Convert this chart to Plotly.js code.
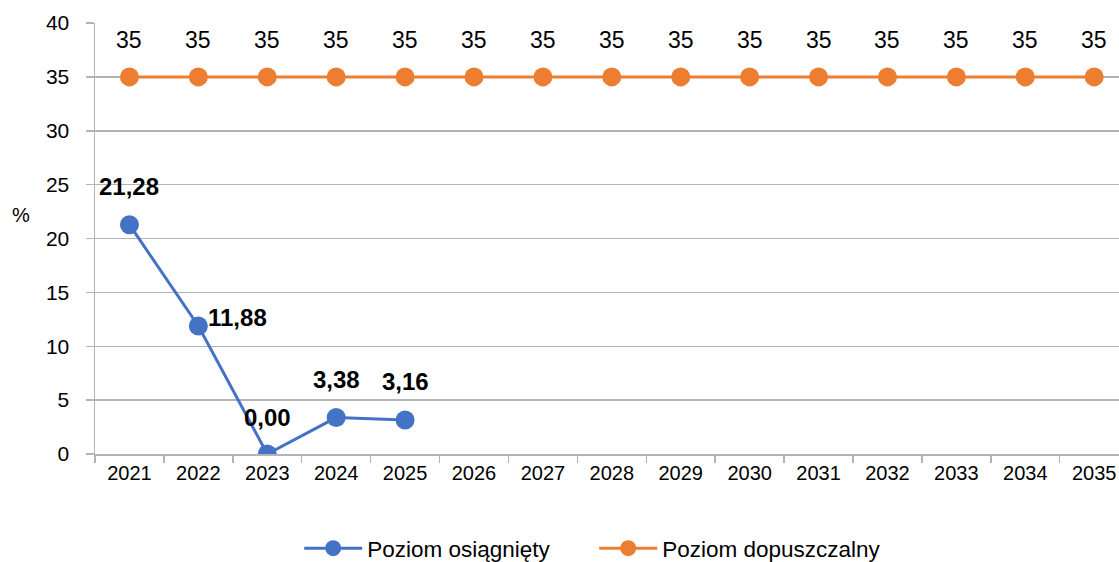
<!DOCTYPE html>
<html>
<head>
<meta charset="utf-8">
<script src="https://cdn.plot.ly/plotly-3.0.1.min.js"></script>
<style>html,body{margin:0;padding:0;overflow:hidden;background:#fff}</style>
</head>
<body>
<div id="chart" style="width:1119px;height:562px"></div>
<script>
var years = ['2021','2022','2023','2024','2025','2026','2027','2028','2029','2030','2031','2032','2033','2034','2035'];
var achievedYears = ['2021','2022','2023','2024','2025'];
var achieved = [21.28, 11.88, 0.00, 3.38, 3.16];
var achievedLabels = ['21,28','11,88','0,00','3,38','3,16'];
var allowed = [35,35,35,35,35,35,35,35,35,35,35,35,35,35,35];
var seriesNames = ['Poziom osiągnięty', 'Poziom dopuszczalny'];
var yTicks = [0,5,10,15,20,25,30,35,40];

var FONT = 'Liberation Sans, Arial, sans-serif';
var BLUE = '#4472C4', ORANGE = '#ED7D31', GRID = '#b4b4b4';

var traces = [
  {x: achievedYears, y: achieved, name: seriesNames[0], type: 'scatter', mode: 'lines+markers',
   line: {color: BLUE, width: 3}, marker: {color: BLUE, size: 19}, hoverinfo: 'x+y'},
  {x: years, y: allowed, name: seriesNames[1], type: 'scatter', mode: 'lines+markers',
   line: {color: ORANGE, width: 3}, marker: {color: ORANGE, size: 19}, hoverinfo: 'x+y'}
];

var annotations = [];
achievedYears.forEach(function(yr, i){
  var idx = years.indexOf(yr);
  var a = {x: idx, y: achieved[i], text: '<b>' + achievedLabels[i] + '</b>', showarrow: false,
    font: {family: FONT, size: 24, color: '#000'}, yshift: 38};
  if (i === 1) { a.xanchor = 'left'; a.xshift = 8; a.yshift = 8; }
  if (i === 2) { a.yshift = 37; }
  annotations.push(a);
});
years.forEach(function(yr, i){
  annotations.push({x: i, y: allowed[i], text: String(allowed[i]), showarrow: false,
    font: {family: FONT, size: 23, color: '#000'}, yshift: 37});
});
annotations.push({xref: 'paper', yref: 'paper', x: -0.072, y: 0.555, text: '%', showarrow: false,
  xanchor: 'center', font: {family: FONT, size: 20, color: '#000'}});

var layout = {
  width: 1119, height: 562,
  margin: {l: 95, r: 0, t: 23, b: 108},
  paper_bgcolor: '#fff', plot_bgcolor: '#fff',
  font: {family: FONT, size: 20, color: '#000'},
  showlegend: true,
  legend: {orientation: 'h', xref: 'container', yref: 'container', x: 0.531, y: 0.024,
    xanchor: 'center', yanchor: 'middle', font: {family: FONT, size: 22.5, color: '#000'},
    itemwidth: 58, entrywidth: 222},
  xaxis: {type: 'category', categoryarray: years, range: [-0.5, 14.36],
    showgrid: false, showline: true, linecolor: GRID, linewidth: 1.5,
    ticks: 'outside', tickson: 'boundaries', ticklen: 7, tickcolor: GRID, tickwidth: 1.5,
    tickfont: {family: FONT, size: 20, color: '#000'}, fixedrange: true},
  yaxis: {range: [0, 40], tickvals: yTicks, showgrid: true, gridcolor: GRID, gridwidth: 1.5,
    showline: true, linecolor: GRID, linewidth: 1.5, zeroline: false,
    ticks: 'outside', ticklen: 8, tickcolor: GRID, tickwidth: 1.5,
    tickfont: {family: FONT, size: 21, color: '#000'}, ticklabelstandoff: 12, fixedrange: true},
  annotations: annotations
};

Plotly.newPlot('chart', traces, layout, {displayModeBar: false, staticPlot: true});
</script>
</body>
</html>
